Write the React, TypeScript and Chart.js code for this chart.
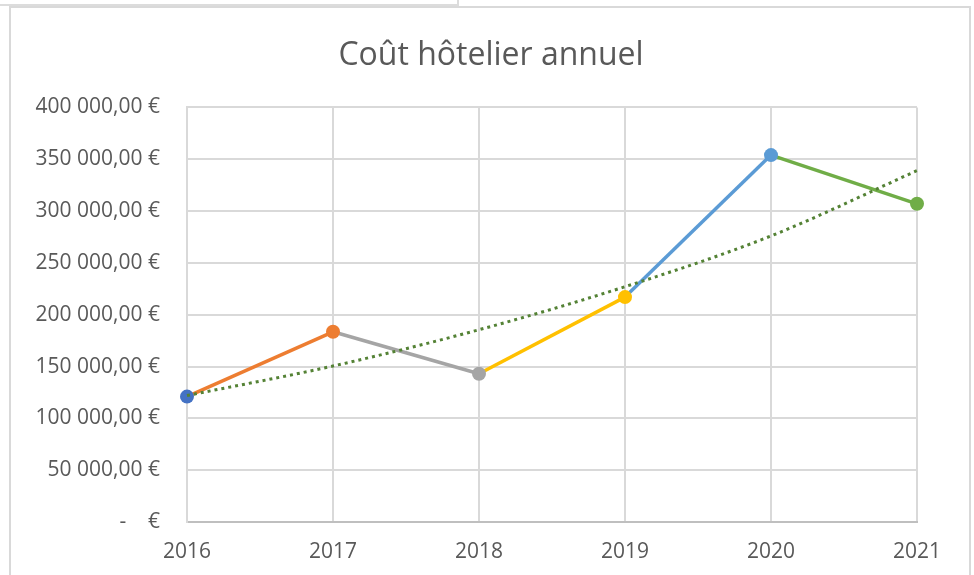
import React, { useEffect, useRef } from "react";
import { Chart, registerables } from "chart.js";

Chart.register(...registerables);

const years = ["2016", "2017", "2018", "2019", "2020", "2021"];
const hotelCost = [121000, 183500, 143000, 217000, 354000, 307000];
const trendValues = [122000, 150500, 185500, 227000, 276000, 339000];
const pointColors = ["#4472C4", "#ED7D31", "#A5A5A5", "#FFC000", "#5B9BD5", "#70AD47"];
const yTickLabels = [
  "-    €",
  "50 000,00 €",
  "100 000,00 €",
  "150 000,00 €",
  "200 000,00 €",
  "250 000,00 €",
  "300 000,00 €",
  "350 000,00 €",
  "400 000,00 €",
];
const titleText = "Coût hôtelier annuel";

export default function App() {
  const ref = useRef<HTMLCanvasElement | null>(null);

  useEffect(() => {
    if (!ref.current) return;
    const chart = new Chart(ref.current, {
      type: "line",
      data: {
        labels: years,
        datasets: [
          {
            label: "Tendance",
            data: trendValues,
            borderColor: "#548235",
            borderWidth: 3,
            borderDash: [3, 4],
            pointRadius: 0,
            cubicInterpolationMode: "monotone",
            fill: false,
            order: 0,
            clip: false as any,
          },
          {
            label: "Coût hôtelier",
            data: hotelCost,
            borderWidth: 3.5,
            borderColor: "#ED7D31",
            segment: {
              borderColor: (ctx: any) => pointColors[ctx.p1DataIndex],
            },
            pointRadius: 7,
            pointBorderWidth: 0,
            pointBackgroundColor: pointColors,
            pointHoverRadius: 7,
            fill: false,
            order: 1,
            clip: false as any,
          },
        ],
      },
      options: {
        responsive: false,
        animation: false,
        devicePixelRatio: 1,
        layout: { padding: { left: 8, right: 0, top: 0, bottom: 0 } },
        plugins: {
          legend: { display: false },
          tooltip: { enabled: false },
          title: {
            display: true,
            text: titleText,
            color: "#595959",
            font: { family: "Open Sans", size: 32, weight: "normal" },
            padding: { top: 37, bottom: 32 },
          },
        },
        scales: {
          x: {
            offset: false,
            grid: { color: "#d9d9d9", lineWidth: 2, drawTicks: false },
            border: { color: "#bfbfbf", width: 2 },
            ticks: {
              color: "#595959",
              font: { family: "Open Sans", size: 21 },
              padding: 17,
              maxRotation: 0,
            },
            afterFit: (scale: any) => {
              scale.height = 53;
            },
          },
          y: {
            min: 0,
            max: 400000,
            grid: { color: "#d9d9d9", lineWidth: 2, drawTicks: false },
            border: { color: "#d9d9d9", width: 2 },
            ticks: {
              stepSize: 50000,
              color: "#595959",
              font: { family: "Open Sans", size: 21 },
              padding: 27,
              callback: (v: any) => yTickLabels[Math.round(Number(v) / 50000)] ?? "",
            },
            afterFit: (scale: any) => {
              scale.width = 179;
            },
          },
          yRightSpace: {
            position: "right",
            display: true,
            grid: { display: false, drawTicks: false },
            border: { display: false },
            ticks: { display: false },
            afterFit: (scale: any) => {
              scale.width = 57;
            },
          },
        },
      },
    });
    return () => chart.destroy();
  }, []);

  return (
    <div
      style={{
        position: "fixed",
        left: 0,
        top: 0,
        width: 974,
        height: 575,
        background: "#ffffff",
        overflow: "hidden",
      }}
    >
      <div style={{ position: "absolute", left: 0, top: 4, width: 459, height: 2, background: "#dcdcdc" }} />
      <div style={{ position: "absolute", left: 457, top: 0, width: 2, height: 5, background: "#dcdcdc" }} />
      <div
        style={{
          position: "absolute",
          left: 9,
          top: 6,
          width: 962,
          height: 620,
          border: "2px solid #d9d9d9",
          boxSizing: "border-box",
        }}
      />
      <canvas
        ref={ref}
        width={974}
        height={575}
        style={{ position: "absolute", left: 0, top: 0, width: 974, height: 575 }}
      />
    </div>
  );
}
